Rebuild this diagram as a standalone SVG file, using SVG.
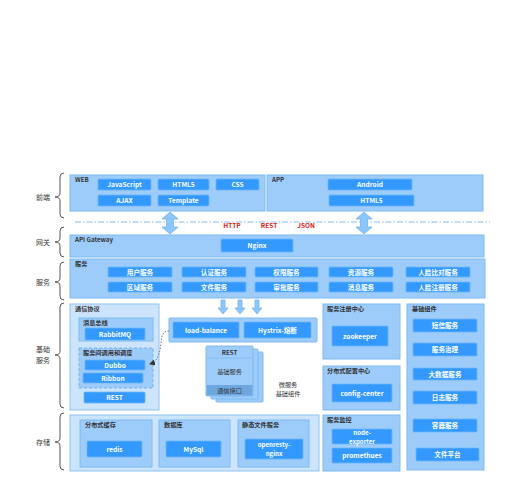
<svg xmlns="http://www.w3.org/2000/svg" width="518" height="500" viewBox="0 0 518 500">
<defs>
<style>
text{font-family:"Noto Sans CJK SC","Noto Sans",sans-serif;}
.panel{fill:#9dcbfa;stroke:#7fbaf3;stroke-width:1;}
.pale{fill:#cce4fc;stroke:#8dc2f5;stroke-width:1;}
.btn{fill:#3399ff;stroke:#6cb5fb;stroke-width:0.8;}
.bt{fill:#ffffff;font-size:6.6px;font-weight:bold;text-anchor:middle;}
.bt2{fill:#ffffff;font-size:6.1px;font-weight:bold;text-anchor:middle;}
.lbl{fill:#333333;font-size:6.2px;font-weight:bold;}
.side{fill:#333333;font-size:7px;text-anchor:middle;}
.brace{fill:none;stroke:#555555;stroke-width:1;}
.proto{fill:#d62020;font-size:6.5px;font-weight:bold;text-anchor:middle;}
.arrow{fill:#8cc6fa;stroke:#74b4f0;stroke-width:0.8;}
.mt{fill:#333333;font-size:6.2px;text-anchor:middle;}
</style>
<marker id="ah" markerWidth="6" markerHeight="6" refX="5" refY="3" orient="auto" markerUnits="userSpaceOnUse">
<path d="M0,0 L6,3 L0,6 Z" fill="#333333"/>
</marker>
</defs>
<rect width="518" height="500" fill="#ffffff"/>

<!-- side labels -->
<g id="side-labels">
<path class="brace" d="M64,173 Q60,173 60,177 L60,193 Q60,197 55,197 Q60,197 60,201 L60,214 Q60,218 64,218"/>
<text class="side" x="43" y="199.5">前端</text>
<path class="brace" d="M64,227 Q60,227 60,231 L60,238 Q60,242 55,242 Q60,242 60,246 L60,253 Q60,257 64,257"/>
<text class="side" x="43" y="244.5">网关</text>
<path class="brace" d="M64,262 Q60,262 60,266 L60,278 Q60,282 55,282 Q60,282 60,286 L60,296 Q60,300 64,300"/>
<text class="side" x="43" y="284.5">服务</text>
<path class="brace" d="M64,303 Q60,303 60,307 L60,351 Q60,355 55,355 Q60,355 60,359 L60,404 Q60,408 64,408"/>
<text class="side" x="43" y="352">基础</text>
<text class="side" x="43" y="363">服务</text>
<path class="brace" d="M64,413 Q60,413 60,417 L60,438 Q60,442 55,442 Q60,442 60,446 L60,466 Q60,470 64,470"/>
<text class="side" x="43" y="444.5">存储</text>
</g>

<!-- WEB -->
<g id="web">
<rect class="panel" x="70" y="175" width="195" height="36"/>
<text class="lbl" x="75" y="182">WEB</text>
<rect class="btn" x="98" y="179" width="53" height="11" rx="1"/><text class="bt" x="124.5" y="187">JavaScript</text>
<rect class="btn" x="158" y="179" width="51" height="11" rx="1"/><text class="bt" x="183.5" y="187">HTML5</text>
<rect class="btn" x="216" y="179" width="43" height="11" rx="1"/><text class="bt" x="237.5" y="187">CSS</text>
<rect class="btn" x="98" y="195" width="53" height="11" rx="1"/><text class="bt" x="124.5" y="203">AJAX</text>
<rect class="btn" x="158" y="195" width="51" height="11" rx="1"/><text class="bt" x="183.5" y="203">Template</text>
</g>

<!-- APP -->
<g id="app">
<rect class="panel" x="267" y="175" width="216" height="36"/>
<text class="lbl" x="272" y="182">APP</text>
<rect class="btn" x="328" y="179" width="84" height="11" rx="1"/><text class="bt" x="370" y="187">Android</text>
<rect class="btn" x="329" y="195" width="85" height="11" rx="1"/><text class="bt" x="371.5" y="203">HTML5</text>
</g>

<!-- protocol line -->
<g id="protocols">
<line x1="75" y1="222" x2="490" y2="222" stroke="#6aaae8" stroke-width="0.8" stroke-dasharray="6 2 1.5 2"/>
<text class="proto" x="232" y="228">HTTP</text>
<text class="proto" x="269" y="228">REST</text>
<text class="proto" x="306" y="228">JSON</text>
</g>

<!-- API Gateway -->
<g id="gateway">
<rect class="panel" x="70" y="235" width="414" height="22"/>
<text class="lbl" x="75" y="242">API Gateway</text>
<rect class="btn" x="221" y="239" width="72" height="13" rx="1"/><text class="bt" x="257" y="248">Nginx</text>
</g>

<!-- Services -->
<g id="services">
<rect class="panel" x="70" y="259" width="415" height="39"/>
<text class="lbl" x="75" y="266">服务</text>
<rect class="btn" x="108" y="267" width="64" height="10" rx="1"/><text class="bt" x="140" y="274.5">用户服务</text>
<rect class="btn" x="182" y="267" width="64" height="10" rx="1"/><text class="bt" x="214" y="274.5">认证服务</text>
<rect class="btn" x="255" y="267" width="63" height="10" rx="1"/><text class="bt" x="286.5" y="274.5">权限服务</text>
<rect class="btn" x="329" y="267" width="64" height="10" rx="1"/><text class="bt" x="361" y="274.5">资源服务</text>
<rect class="btn" x="406" y="267" width="64" height="10" rx="1"/><text class="bt" x="438" y="274.5">人脸比对服务</text>
<rect class="btn" x="108" y="282" width="64" height="10" rx="1"/><text class="bt" x="140" y="289.5">区域服务</text>
<rect class="btn" x="182" y="282" width="64" height="10" rx="1"/><text class="bt" x="214" y="289.5">文件服务</text>
<rect class="btn" x="255" y="282" width="63" height="10" rx="1"/><text class="bt" x="286.5" y="289.5">审批服务</text>
<rect class="btn" x="329" y="282" width="64" height="10" rx="1"/><text class="bt" x="361" y="289.5">消息服务</text>
<rect class="btn" x="406" y="282" width="64" height="10" rx="1"/><text class="bt" x="438" y="289.5">人脸注册服务</text>
</g>

<!-- 通信协议 -->
<g id="comm">
<rect class="pale" x="70" y="304" width="89" height="106"/>
<text class="lbl" x="75" y="311">通信协议</text>
<rect class="panel" x="79" y="318" width="74" height="23"/>
<text class="lbl" x="83" y="325">消息总线</text>
<rect class="btn" x="85" y="328" width="60" height="12" rx="1"/><text class="bt" x="115" y="336.5">RabbitMQ</text>
<rect x="79" y="348" width="74" height="40" fill="#9dcbfa" stroke="#6aaae8" stroke-width="0.8" stroke-dasharray="3 2"/>
<text class="lbl" x="83" y="355">服务间调用和调度</text>
<rect class="btn" x="85" y="360" width="60" height="10" rx="1"/><text class="bt" x="115" y="367.5">Dubbo</text>
<rect class="btn" x="83" y="373" width="60" height="10" rx="1"/><text class="bt" x="113" y="380.5">Ribbon</text>
<rect class="btn" x="84" y="392" width="61" height="11" rx="1"/><text class="bt" x="114.5" y="400">REST</text>
</g>

<!-- load balance -->
<g id="lb">
<rect class="panel" x="169" y="318" width="148" height="24" rx="1"/>
<rect class="btn" x="173" y="322" width="66" height="16" rx="1"/><text class="bt" x="206" y="332.5">load-balance</text>
<rect class="btn" x="244" y="322" width="67" height="16" rx="1"/><text class="bt" x="277.5" y="332.5">Hystrix-熔断</text>
</g>

<!-- micro service stack -->
<g id="micro">
<rect class="panel" x="216" y="352" width="47" height="50" rx="1"/>
<rect class="panel" x="211" y="349" width="47" height="50" rx="1"/>
<rect class="panel" x="206" y="346" width="47" height="50" rx="1"/>
<line x1="206" y1="358" x2="253" y2="358" stroke="#7fbaf3" stroke-width="0.8"/>
<rect x="206.5" y="385" width="46" height="10.5" fill="#6ea7df"/>
<text class="mt" x="229.5" y="355" font-weight="bold">REST</text>
<text class="mt" x="229.5" y="374">基础服务</text>
<text class="mt" x="229.5" y="393">通信接口</text>
<text class="mt" x="288" y="387">微服务</text>
<text class="mt" x="288" y="396">基础组件</text>
</g>

<!-- registry -->
<g id="registry">
<rect class="panel" x="323" y="304" width="77" height="55"/>
<text class="lbl" x="327" y="311">服务注册中心</text>
<rect class="btn" x="332" y="326" width="56" height="20" rx="1"/><text class="bt" x="360" y="338.5">zookeeper</text>
</g>

<!-- config -->
<g id="config">
<rect class="panel" x="323" y="366" width="77" height="44"/>
<text class="lbl" x="327" y="373">分布式配置中心</text>
<rect class="btn" x="332" y="384" width="60" height="18" rx="1"/><text class="bt" x="362" y="395.5">config-center</text>
</g>

<!-- monitoring -->
<g id="monitor">
<rect class="panel" x="323" y="415" width="77" height="56"/>
<text class="lbl" x="327" y="422">服务监控</text>
<rect class="btn" x="332" y="429" width="60" height="15" rx="1"/><text class="bt2" x="362" y="434.5">node-</text><text class="bt2" x="362" y="443.5">exporter</text>
<rect class="btn" x="332" y="448" width="60" height="15" rx="1"/><text class="bt" x="362" y="458">promethues</text>
</g>

<!-- base components -->
<g id="base">
<rect class="panel" x="407" y="304" width="77" height="166"/>
<text class="lbl" x="412" y="311">基础组件</text>
<rect class="btn" x="413" y="319" width="64" height="13" rx="1"/><text class="bt" x="445" y="328">短信服务</text>
<rect class="btn" x="413" y="343" width="64" height="13" rx="1"/><text class="bt" x="445" y="352">服务治理</text>
<rect class="btn" x="413" y="368" width="64" height="12" rx="1"/><text class="bt" x="445" y="376.5">大数据服务</text>
<rect class="btn" x="413" y="391" width="64" height="13" rx="1"/><text class="bt" x="445" y="400">日志服务</text>
<rect class="btn" x="413" y="419" width="64" height="13" rx="1"/><text class="bt" x="445" y="428">容器服务</text>
<rect class="btn" x="416" y="448" width="63" height="13" rx="1"/><text class="bt" x="447.5" y="457">文件平台</text>
</g>

<!-- storage -->
<g id="storage">
<rect class="pale" x="70" y="415" width="249" height="56"/>
<rect class="panel" x="80" y="420" width="72" height="47"/>
<text class="lbl" x="85" y="427">分布式缓存</text>
<rect class="btn" x="87" y="441" width="55" height="16" rx="1"/><text class="bt" x="114.5" y="451.5">redis</text>
<rect class="panel" x="159" y="420" width="71" height="47"/>
<text class="lbl" x="164" y="427">数据库</text>
<rect class="btn" x="166" y="441" width="55" height="16" rx="1"/><text class="bt" x="193.5" y="451.5">MySql</text>
<rect class="panel" x="238" y="420" width="71" height="47"/>
<text class="lbl" x="242" y="427">静态文件服务</text>
<rect class="btn" x="245" y="439" width="58" height="20" rx="1"/><text class="bt2" x="274" y="446.5">openresty-</text><text class="bt2" x="274" y="455.5">nginx</text>
</g>

<!-- connectors -->
<g id="connectors">
<path class="arrow" d="M170,212 L178,219 L173.5,219 L173.5,227 L178,227 L170,234 L162,227 L166.5,227 L166.5,219 L162,219 Z"/>
<path class="arrow" d="M364,212 L372,219 L367.5,219 L367.5,227 L372,227 L364,234 L356,227 L360.5,227 L360.5,219 L356,219 Z"/>
<path class="arrow" d="M221,300 L225,300 L225,308 L228,308 L223,314 L218,308 L221,308 Z"/>
<path class="arrow" d="M238,300 L242,300 L242,308 L245,308 L240,314 L235,308 L238,308 Z"/>
<path class="arrow" d="M255,300 L259,300 L259,308 L262,308 L257,314 L252,308 L255,308 Z"/>
<path d="M169,331 C160,331 162,340 160,350 C158,358 156,362 150,364" fill="none" stroke="#555555" stroke-width="0.8" stroke-dasharray="1.5 1.5" marker-end="url(#ah)"/>
</g>
</svg>
